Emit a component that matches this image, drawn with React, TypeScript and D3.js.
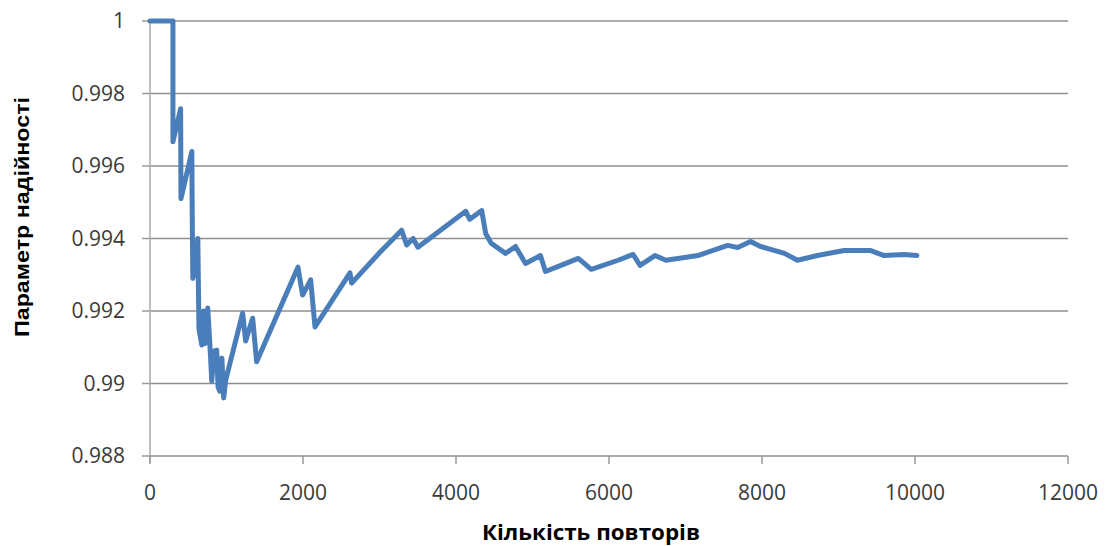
import React from "react";
import * as d3 from "d3";

const repetitions = [
  0, 300, 300, 400, 405, 547, 552, 560, 600, 625, 640, 677, 700, 720, 755, 790, 807, 840, 872, 890,
  911, 940, 963, 990, 1211, 1250, 1342, 1394, 1934, 1995, 2100, 2157, 2614, 2636, 3006, 3289,
  3355, 3440, 3502, 4127, 4180, 4336, 4388, 4460, 4648, 4778, 4909, 5104, 5169, 5338, 5599, 5768,
  6119, 6315, 6406, 6601, 6744, 6900, 7161, 7552, 7682, 7851, 7981, 8294, 8463, 8723, 9075, 9413,
  9596, 9856, 10025,
];
const reliability = [
  1, 1, 0.99667, 0.99758, 0.9951, 0.9964, 0.99463, 0.9929, 0.9933, 0.994, 0.9915, 0.99106, 0.992,
  0.9911, 0.99208, 0.9908, 0.99007, 0.9909, 0.99092, 0.9899, 0.98979, 0.9907, 0.9896, 0.9901,
  0.99194, 0.99117, 0.9918, 0.9906, 0.99321, 0.99244, 0.99286, 0.99156, 0.99305, 0.99277,
  0.99362, 0.99423, 0.99382, 0.994, 0.99376, 0.99475, 0.99453, 0.99477, 0.99414, 0.99387, 0.99359,
  0.99378, 0.99331, 0.99353, 0.99309, 0.99323, 0.99345, 0.99315, 0.9934, 0.99356, 0.99326, 0.99353,
  0.9934, 0.99345, 0.99353, 0.99381, 0.99375, 0.99392, 0.99378, 0.99359, 0.9934, 0.99353, 0.99367,
  0.99367, 0.99353, 0.99356, 0.99353,
];
const xTicks = [0, 2000, 4000, 6000, 8000, 10000, 12000];
const yTicks = [0.988, 0.99, 0.992, 0.994, 0.996, 0.998, 1];
const yTickLabels = ["0.988", "0.99", "0.992", "0.994", "0.996", "0.998", "1"];
const xTitle = "Кількість повторів";
const yTitle = "Параметр надійності";

export default function App() {
  const W = 1113;
  const H = 546;
  const left = 150;
  const right = 1068;
  const top = 21;
  const bottom = 456;
  const x = d3.scaleLinear().domain([0, 12000]).range([left, right]);
  const y = d3.scaleLinear().domain([0.988, 1]).range([bottom, top]);
  const pts: [number, number][] = repetitions.map((r, i) => [r, reliability[i]]);
  const line = d3
    .line<[number, number]>()
    .x((d) => x(d[0]))
    .y((d) => y(d[1]));
  const tickFont = "'Open Sans', sans-serif";
  return (
    <svg
      width={W}
      height={H}
      style={{ position: "absolute", left: 0, top: 0, background: "#fff" }}
    >
      <rect x={0} y={0} width={W} height={H} fill="#fff" />
      {yTicks.map((t, i) => (
        <g key={"gy" + i}>
          {i > 0 && (
            <line x1={left} x2={right} y1={y(t)} y2={y(t)} stroke="#8f8f8f" strokeWidth={1.5} />
          )}
          <line x1={left - 8} x2={left} y1={y(t)} y2={y(t)} stroke="#9a9a9a" strokeWidth={1.5} />
          <text
            x={125}
            y={y(t)}
            dy="0.35em"
            textAnchor="end"
            fontFamily={tickFont}
            fontSize={21}
            fill="#3a3a3a"
          >
            {yTickLabels[i]}
          </text>
        </g>
      ))}
      <line x1={left} x2={left} y1={top} y2={bottom + 7} stroke="#a8a8a8" strokeWidth={1.5} />
      <line x1={left} x2={right} y1={bottom} y2={bottom} stroke="#8f8f8f" strokeWidth={1.5} />
      {xTicks.map((t, i) => (
        <g key={"gx" + i}>
          <line x1={x(t)} x2={x(t)} y1={bottom} y2={bottom + 8} stroke="#9a9a9a" strokeWidth={1.5} />
          <text
            x={x(t)}
            y={493}
            dy="0.35em"
            textAnchor="middle"
            fontFamily={tickFont}
            fontSize={21}
            fill="#3a3a3a"
          >
            {t}
          </text>
        </g>
      ))}
      <path
        d={line(pts) || ""}
        fill="none"
        stroke="#4a7ebb"
        strokeWidth={5}
        strokeLinejoin="round"
        strokeLinecap="round"
      />
      <text
        x={591}
        y={533}
        dy="0.35em"
        textAnchor="middle"
        fontFamily="'Open Sans', sans-serif"
        fontWeight="bold"
        fontSize={21}
        textLength={218}
        lengthAdjust="spacingAndGlyphs"
        fill="#000"
      >
        {xTitle}
      </text>
      <text
        transform="translate(22,217) rotate(-90)"
        dy="0.35em"
        textAnchor="middle"
        fontFamily="'Liberation Sans', Arial, sans-serif"
        fontWeight="bold"
        fontSize={21}
        textLength={240}
        lengthAdjust="spacingAndGlyphs"
        fill="#000"
      >
        {yTitle}
      </text>
    </svg>
  );
}
